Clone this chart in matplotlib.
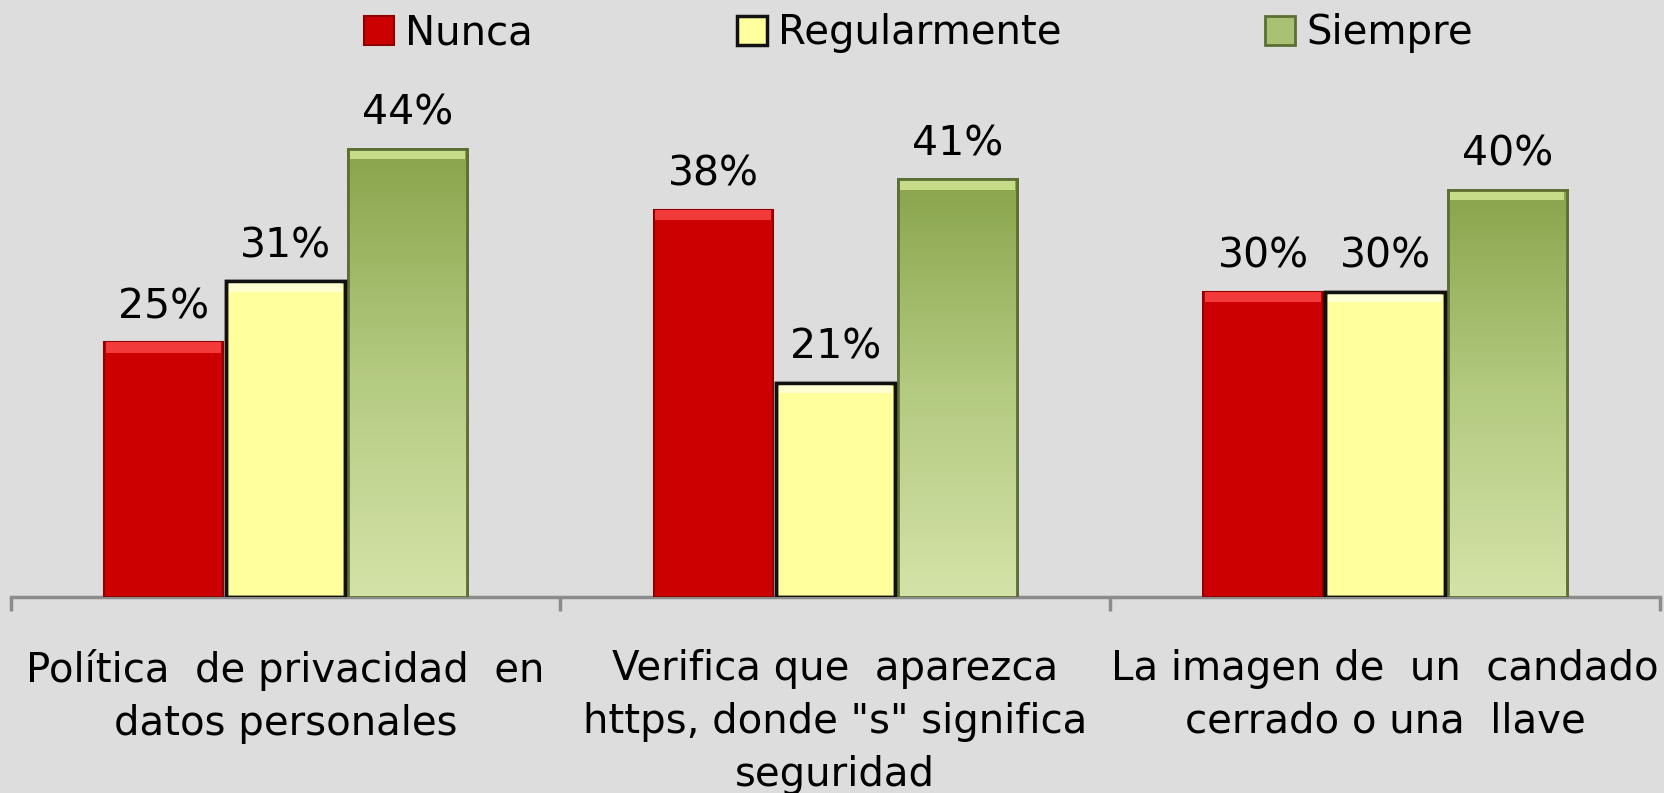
import numpy as np
import matplotlib
matplotlib.use("Agg")
import matplotlib.pyplot as plt
from matplotlib.colors import LinearSegmentedColormap

categories = [
    "Política  de privacidad  en\ndatos personales",
    "Verifica que  aparezca\nhttps, donde \"s\" significa\nseguridad",
    "La imagen de  un  candado\ncerrado o una  llave",
]
series = ["Nunca", "Regularmente", "Siempre"]
nunca = [25, 38, 30]
regularmente = [31, 21, 30]
siempre = [44, 41, 40]

BG = "#dddddd"
plt.rcParams["font.family"] = ["DejaVu Sans"]

fig = plt.figure(figsize=(16.65, 7.93), dpi=100, facecolor=BG)
ax = fig.add_axes([0.0064, 0.247, 0.9906, 0.677])
ax.set_facecolor(BG)

x = np.arange(len(categories))
width = 0.217
offset = 0.222
bevel = 1.0  # height of the light strip on top of each bar (data units)

b_red = ax.bar(x - offset, nunca, width, color="#cc0000", edgecolor="#8f0000",
               linewidth=1.5, label=series[0], zorder=3)
b_yel = ax.bar(x, regularmente, width, color="#ffff9e", edgecolor="#111111",
               linewidth=2.5, label=series[1], zorder=3)
b_grn = ax.bar(x + offset, siempre, width, color="#a9c173", edgecolor="#5d6e35",
               linewidth=2, label=series[2], zorder=3)

# green bars get a vertical gradient (dark top, light bottom)
green_cmap = LinearSegmentedColormap.from_list("g", ["#d4e3a8", "#b3ca80", "#89a44b"])
grad = np.linspace(0, 1, 256).reshape(-1, 1)
for bar in b_grn:
    x0, w, h = bar.get_x(), bar.get_width(), bar.get_height()
    im = ax.imshow(grad, extent=[x0, x0 + w, 0, h], origin="lower", cmap=green_cmap,
                   aspect="auto", zorder=3.5)
    im.set_clip_path(bar)

# bevel highlight on top of the bars
ax.bar(x - offset, bevel, width * 0.97, bottom=np.array(nunca) - bevel,
       color="#f23a3a", linewidth=0, zorder=4)
ax.bar(x, bevel, width * 0.95, bottom=np.array(regularmente) - bevel,
       color="#ffffd2", linewidth=0, zorder=4)
ax.bar(x + offset, bevel, width * 0.96, bottom=np.array(siempre) - bevel,
       color="#c6dc88", linewidth=0, zorder=4)
ax.bar(x + offset, siempre, width, fill=False, edgecolor="#5d6e35", linewidth=2, zorder=4.5)
ax.bar(x, regularmente, width, fill=False, edgecolor="#111111", linewidth=2.5, zorder=4.5)

for bars, vals in [(b_red, nunca), (b_yel, regularmente), (b_grn, siempre)]:
    ax.bar_label(bars, labels=[f"{v}%" for v in vals], padding=11, fontsize=29.5, zorder=5)

ax.set_xlim(-0.5, 2.5)
ax.set_ylim(0, 52.7)
ax.set_yticks([])
for side in ["top", "right", "left"]:
    ax.spines[side].set_visible(False)
ax.spines["bottom"].set_color("#8c8c8c")
ax.spines["bottom"].set_linewidth(2.5)

ax.set_xticks(x)
ax.set_xticklabels(categories, fontsize=29, linespacing=1.42)
ax.tick_params(axis="x", which="major", length=0, pad=37)
ax.set_xticks([-0.5, 0.5, 1.5, 2.5], minor=True)
ax.tick_params(axis="x", which="minor", length=10, width=2.5, color="#8c8c8c")

fig.legend(handles=[b_red, b_yel, b_grn], labels=series, loc="center",
           bbox_to_anchor=(0.5517, 0.958), ncol=3, frameon=False, fontsize=29,
           handlelength=0.75, handleheight=0.75, handletextpad=0.27,
           columnspacing=5.06, borderpad=0)

fig.savefig("out.png", dpi=100, facecolor=BG)
